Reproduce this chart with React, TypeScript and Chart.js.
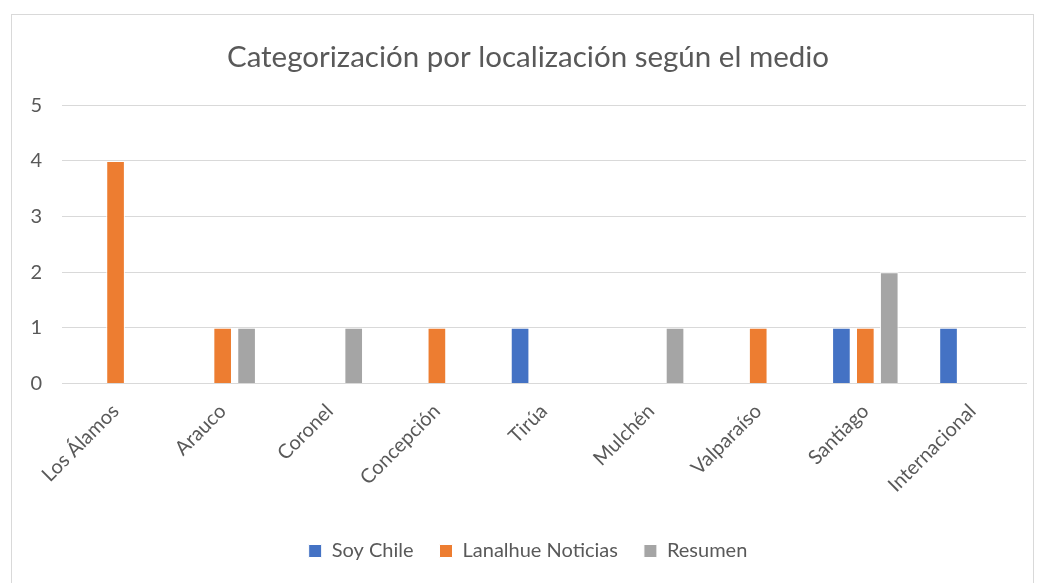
import React, { useEffect, useRef } from "react";
import { Chart, registerables } from "chart.js";

Chart.register(...registerables);

const categories = ["Los Álamos", "Arauco", "Coronel", "Concepción", "Tirúa", "Mulchén", "Valparaíso", "Santiago", "Internacional"];
const soyChile = [0, 0, 0, 0, 1, 0, 0, 1, 1];
const lanalhue = [4, 1, 0, 1, 0, 0, 1, 1, 0];
const resumen = [0, 1, 1, 0, 0, 1, 0, 2, 0];
const seriesNames = ["Soy Chile", "Lanalhue Noticias", "Resumen"];
const titleText = "Categorización por localización según el medio";

const FONT = "Lato, 'Open Sans', sans-serif";
const TEXT = "#595959";

export default function App() {
  const ref = useRef<HTMLCanvasElement | null>(null);
  useEffect(() => {
    if (!ref.current) return;
    const common = { categoryPercentage: 0.67, barPercentage: 0.78, borderColor: "#ffffff", borderWidth: 1 };
    const chart = new Chart(ref.current, {
      type: "bar",
      data: {
        labels: categories,
        datasets: [
          { label: seriesNames[0], data: soyChile, backgroundColor: "#4472C4", ...common },
          { label: seriesNames[1], data: lanalhue, backgroundColor: "#ED7D31", ...common },
          { label: seriesNames[2], data: resumen, backgroundColor: "#A5A5A5", ...common },
        ],
      },
      options: {
        animation: false,
        responsive: false,
        maintainAspectRatio: false,
        layout: { padding: { left: 18, right: 7, top: 0, bottom: 17 } },
        plugins: {
          title: {
            display: true,
            text: titleText,
            color: TEXT,
            font: { family: FONT, size: 29.5, weight: "normal" },
            padding: { top: 25, bottom: 30 },
          },
          legend: {
            position: "bottom",
            labels: {
              color: TEXT,
              font: { family: FONT, size: 20 },
              boxWidth: 13,
              boxHeight: 13,
              padding: 26,
            },
          },
          tooltip: { enabled: false },
        },
        scales: {
          x: {
            grid: { display: false },
            border: { display: true, color: "#D9D9D9", width: 1 },
            afterFit: (scale: any) => {
              scale.paddingLeft = 0;
              scale.paddingRight = 0;
              scale.height += 10;
            },
            ticks: {
              color: TEXT,
              font: { family: FONT, size: 20 },
              minRotation: 45,
              maxRotation: 45,
              padding: 8,
              autoSkip: false,
            },
          },
          y: {
            min: 0,
            max: 5,
            grid: { color: "#D9D9D9", lineWidth: 1, drawTicks: false },
            border: { display: false },
            afterFit: (scale: any) => {
              scale.width = 32;
            },
            ticks: {
              stepSize: 1,
              color: TEXT,
              font: { family: FONT, size: 20 },
              padding: 20,
            },
          },
        },
      },
    });
    return () => chart.destroy();
  }, []);
  return (
    <div style={{ paddingLeft: 3, paddingTop: 6 }}>
      <div style={{ width: 1023, height: 575, border: "1px solid #D9D9D9", boxSizing: "border-box" }}>
        <canvas ref={ref} width={1021} height={573} style={{ display: "block" }} />
      </div>
    </div>
  );
}
